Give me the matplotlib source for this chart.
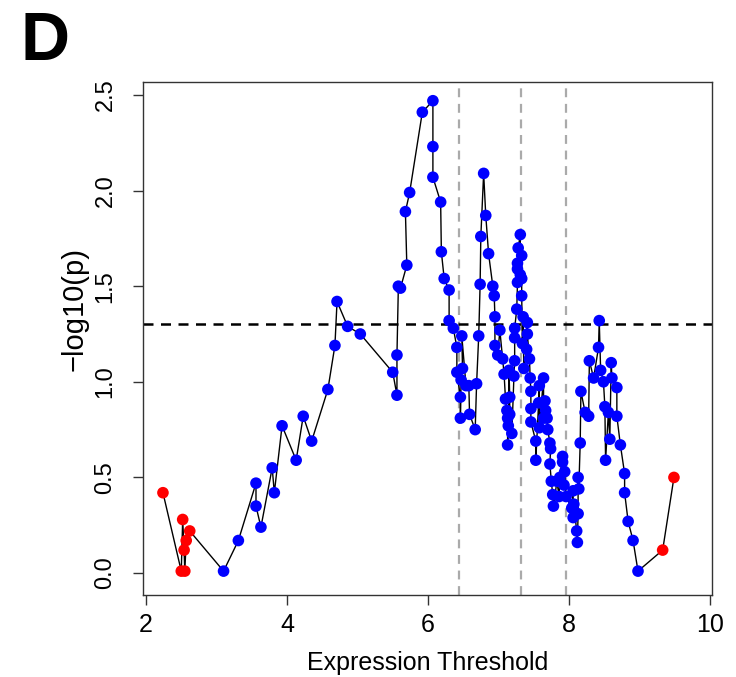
import numpy as np
import matplotlib.pyplot as plt

plt.rcParams['font.family'] = ['Liberation Sans', 'DejaVu Sans']

# expression threshold vs -log10(p)
threshold = [2.24, 2.50, 2.52, 2.54, 2.55, 2.57, 2.62,
             3.10, 3.31, 3.56, 3.56, 3.63, 3.79, 3.82, 3.93, 4.13, 4.23, 4.35, 4.58, 4.68, 4.71,
             4.86, 5.04, 5.50, 5.56, 5.56, 5.58, 5.61, 5.70, 5.68, 5.74, 5.92, 6.07, 6.07, 6.07,
             6.18, 6.19, 6.23, 6.30, 6.30, 6.36, 6.41, 6.41, 6.46, 6.46, 6.47, 6.49, 6.48, 6.54,
             6.58, 6.59, 6.67, 6.69, 6.72, 6.74, 6.75, 6.79, 6.82, 6.86, 6.92, 6.94, 6.95, 6.95,
             6.99, 7.02, 7.06, 7.08, 7.10, 7.12, 7.13, 7.13, 7.14, 7.15, 7.16, 7.16, 7.19, 7.22,
             7.23, 7.23, 7.23, 7.26, 7.27, 7.27, 7.27, 7.28, 7.31, 7.31, 7.33, 7.33, 7.33, 7.34,
             7.35, 7.36, 7.40, 7.41, 7.41, 7.44, 7.45, 7.46, 7.46, 7.46, 7.53, 7.53, 7.57, 7.58,
             7.58, 7.64, 7.64, 7.66, 7.67, 7.69, 7.70, 7.73, 7.74, 7.73, 7.75, 7.77, 7.78, 7.83,
             7.86, 7.87, 7.91, 7.91, 7.93, 7.94, 7.96, 8.04, 8.06, 8.06, 8.07, 8.11, 8.12, 8.13,
             8.13, 8.14, 8.16, 8.17, 8.23, 8.28, 8.29, 8.35, 8.42, 8.43, 8.45, 8.49, 8.51, 8.52,
             8.56, 8.58, 8.60, 8.61, 8.68, 8.68, 8.73, 8.79, 8.79, 8.84, 8.91, 8.98,
             9.33, 9.49]
neglogp = [0.42, 0.01, 0.28, 0.12, 0.01, 0.17, 0.22,
           0.01, 0.17, 0.47, 0.35, 0.24, 0.55, 0.42, 0.77, 0.59, 0.82, 0.69, 0.96, 1.19, 1.42,
           1.29, 1.25, 1.05, 0.93, 1.14, 1.50, 1.49, 1.61, 1.89, 1.99, 2.41, 2.47, 2.23, 2.07,
           1.94, 1.68, 1.54, 1.48, 1.32, 1.28, 1.18, 1.05, 0.92, 0.81, 1.01, 1.07, 1.24, 0.98,
           0.98, 0.83, 0.75, 0.99, 1.24, 1.51, 1.76, 2.09, 1.87, 1.67, 1.50, 1.45, 1.34, 1.19,
           1.14, 1.27, 1.12, 1.04, 0.91, 0.85, 0.81, 0.67, 0.77, 1.06, 0.92, 0.83, 0.73, 1.03,
           1.11, 1.23, 1.28, 1.38, 1.52, 1.59, 1.62, 1.70, 1.77, 1.56, 1.66, 1.54, 1.45, 1.20,
           1.34, 1.07, 1.17, 1.31, 1.25, 1.12, 1.02, 0.95, 0.86, 0.79, 0.69, 0.59, 0.89, 0.98,
           0.76, 1.02, 0.81, 0.90, 0.85, 0.81, 0.75, 0.68, 0.65, 0.57, 0.48, 0.41, 0.35, 0.48,
           0.40, 0.50, 0.61, 0.58, 0.46, 0.53, 0.40, 0.34, 0.43, 0.29, 0.36, 0.22, 0.16, 0.31,
           0.50, 0.44, 0.68, 0.95, 0.84, 0.82, 1.11, 1.02, 1.18, 1.32, 1.06, 1.00, 0.87, 0.59,
           0.84, 0.70, 1.10, 1.02, 0.97, 0.82, 0.67, 0.52, 0.42, 0.27, 0.17, 0.01,
           0.12, 0.50]

# thresholds outside the tested range are flagged red
tested_range = (3.0, 9.2)
cutoffs = [6.44, 7.32, 7.96]
sig_line = 1.30

x_ticks = [2, 4, 6, 8, 10]
y_ticks = [0.0, 0.5, 1.0, 1.5, 2.0, 2.5]

x = np.array(threshold)
y = np.array(neglogp)
cols = np.where((x < tested_range[0]) | (x > tested_range[1]), 'red', 'blue')

fig = plt.figure(figsize=(7.36, 6.77), dpi=100)
ax = fig.add_axes([0.1943, 0.1211, 0.7731, 0.7578])

for c in cutoffs:
    ax.axvline(c, color='#aaaaaa', ls=(0, (4, 3)), lw=1.6, zorder=1)
ax.axhline(sig_line, color='black', ls=(0, (4, 3)), lw=1.8, zorder=1)

ax.plot(x, y, color='black', lw=1.0, zorder=2)
ax.scatter(x, y, c=cols, s=70, edgecolors='none', zorder=3)

ax.set_xlim(1.957, 10.03)
ax.set_ylim(-0.115, 2.568)
ax.set_xticks(x_ticks)
ax.set_yticks(y_ticks)
ax.set_xticklabels([str(t) for t in x_ticks], fontsize=18)
ax.set_yticklabels(['%.1f' % t for t in y_ticks], fontsize=17, rotation=90, va='center')
ax.tick_params(direction='out', length=7, width=1.0, color='#333333')
ax.tick_params(axis='x', pad=6)
ax.tick_params(axis='y', pad=12)
for s in ax.spines.values():
    s.set_color('#333333')
    s.set_linewidth(1.0)

ax.set_xlabel('Expression Threshold', fontsize=18, labelpad=10)
ax.set_ylabel('\u2212log10(p)', fontsize=21)
ax.yaxis.set_label_coords(-0.095, 0.557)

fig.text(0.028, 0.912, 'D', fontsize=49, fontweight='bold', ha='left', va='baseline')

fig.savefig('out.png', dpi=100)
